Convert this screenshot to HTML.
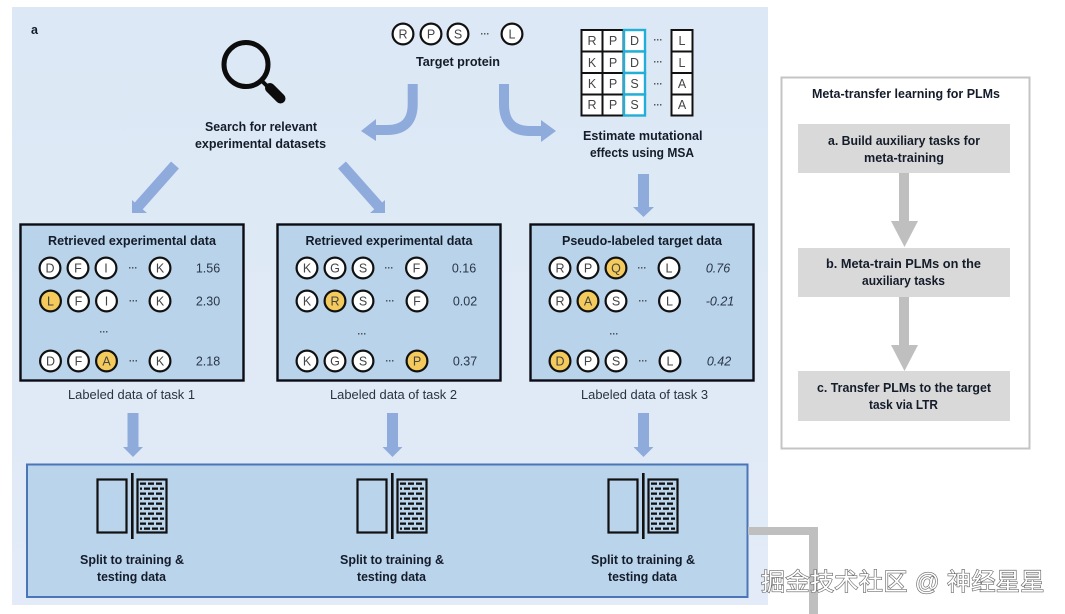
<!DOCTYPE html>
<html><head><meta charset="utf-8">
<style>
html,body{margin:0;padding:0;background:#fff;width:1065px;height:614px;overflow:hidden}
svg{display:block;filter:blur(.35px)}
text{font-family:"Liberation Sans","Noto Sans CJK SC",sans-serif;fill:#141c2a}
.b{font-weight:bold;font-size:12.5px}
.r{font-size:12.5px;fill:#2a3240}
.l{font-size:12.5px;fill:#444;text-anchor:middle}
.v{font-size:12.5px;text-anchor:middle;fill:#2a3646}
.i{font-style:italic}
.d{font-size:9px;text-anchor:middle;fill:#333;font-weight:bold}
.c{fill:#fff;stroke:#111;stroke-width:2.2}
.y{fill:#f4ca5c;stroke:#111;stroke-width:2.2}
.s{fill:none;stroke:#8fabdc}
.h{fill:#8fabdc}
.box{fill:#b9d3eb;stroke:#0c0c14;stroke-width:2.4}
.g{fill:#d9d9d9}
.a{fill:#bfbfbf}
.m{fill:#fff;stroke:#111;stroke-width:2}
.wm{font-size:24px;fill:#fff;letter-spacing:.6px;stroke:#6a6a6a;stroke-width:1.3px;paint-order:stroke}
</style></head>
<body>
<svg width="1065" height="614" viewBox="0 0 1065 614" xmlns="http://www.w3.org/2000/svg">
<defs>
<linearGradient id="pg" x1="0" y1="0" x2="0" y2="1"><stop offset="0" stop-color="#dce8f5"/><stop offset="1" stop-color="#e2ebf7"/></linearGradient>
<pattern id="br" patternUnits="userSpaceOnUse" x="140" y="482" width="8" height="10">
<rect x="0" y="0.5" width="6" height="2.3" fill="#111"/><rect x="4" y="5.5" width="4" height="2.3" fill="#111"/><rect x="0" y="5.5" width="2" height="2.3" fill="#111"/>
</pattern>
<g id="icon">
<rect x="97.5" y="479.5" width="29" height="53" fill="none" stroke="#111" stroke-width="2.2"/>
<rect x="131" y="473" width="2.6" height="66" fill="#111"/>
<rect x="137.5" y="479.5" width="29" height="53" fill="none" stroke="#111" stroke-width="2.2"/>
<rect x="140" y="482" width="24" height="48" fill="url(#br)"/>
</g>
<g id="dn"><rect x="127.5" y="413" width="11" height="35" fill="#8fabdc"/><path d="M123 447H143L133 457Z" fill="#8fabdc"/></g>
</defs>

<rect x="12" y="7" width="756" height="598" fill="url(#pg)"/>
<text x="31" y="34" class="b">a</text>

<!-- magnifier -->
<circle cx="246" cy="64.5" r="22" fill="none" stroke="#0c0c0c" stroke-width="5"/>
<path d="M262 81L268 87" stroke="#0c0c0c" stroke-width="4"/>
<path d="M270 88L280.5 98.5" stroke="#0c0c0c" stroke-width="10" stroke-linecap="round"/>
<text x="205" y="131" class="b" textLength="112" lengthAdjust="spacingAndGlyphs">Search for relevant</text>
<text x="195" y="148" class="b" textLength="131" lengthAdjust="spacingAndGlyphs">experimental datasets</text>

<!-- target protein -->
<circle class="c" cx="403" cy="34" r="10.4"/><text class="l" x="403" y="38.5">R</text>
<circle class="c" cx="431" cy="34" r="10.4"/><text class="l" x="431" y="38.5">P</text>
<circle class="c" cx="458" cy="34" r="10.4"/><text class="l" x="458" y="38.5">S</text>
<text class="d" x="485" y="37">···</text>
<circle class="c" cx="512" cy="34" r="10.4"/><text class="l" x="512" y="38.5">L</text>
<text x="416" y="66" class="b" textLength="84" lengthAdjust="spacingAndGlyphs">Target protein</text>

<!-- MSA -->
<g>
<rect class="m" x="581.5" y="30" width="21" height="21.5"/><rect class="m" x="602.5" y="30" width="21" height="21.5"/>
<rect class="m" x="581.5" y="51.5" width="21" height="21.5"/><rect class="m" x="602.5" y="51.5" width="21" height="21.5"/>
<rect class="m" x="581.5" y="73" width="21" height="21.5"/><rect class="m" x="602.5" y="73" width="21" height="21.5"/>
<rect class="m" x="581.5" y="94.5" width="21" height="21"/><rect class="m" x="602.5" y="94.5" width="21" height="21"/>
<rect class="m" x="671.5" y="30" width="21" height="21.5"/><rect class="m" x="671.5" y="51.5" width="21" height="21.5"/>
<rect class="m" x="671.5" y="73" width="21" height="21.5"/><rect class="m" x="671.5" y="94.5" width="21" height="21"/>
<g fill="#fff" stroke="#22aed6" stroke-width="2.4">
<rect x="624" y="30" width="21" height="21.5"/><rect x="624" y="51.5" width="21" height="21.5"/>
<rect x="624" y="73" width="21" height="21.5"/><rect x="624" y="94.5" width="21" height="21"/>
</g>
<text class="l" x="592" y="45">R</text><text class="l" x="613" y="45">P</text><text class="l" x="634.5" y="45">D</text><text class="d" x="658" y="43">···</text><text class="l" x="682" y="45">L</text>
<text class="l" x="592" y="67">K</text><text class="l" x="613" y="67">P</text><text class="l" x="634.5" y="67">D</text><text class="d" x="658" y="65">···</text><text class="l" x="682" y="67">L</text>
<text class="l" x="592" y="88">K</text><text class="l" x="613" y="88">P</text><text class="l" x="634.5" y="88">S</text><text class="d" x="658" y="87">···</text><text class="l" x="682" y="88">A</text>
<text class="l" x="592" y="109">R</text><text class="l" x="613" y="109">P</text><text class="l" x="634.5" y="109">S</text><text class="d" x="658" y="108">···</text><text class="l" x="682" y="109">A</text>
</g>
<text x="583" y="140" class="b" textLength="119.5" lengthAdjust="spacingAndGlyphs">Estimate mutational</text>
<text x="590" y="157" class="b" textLength="104" lengthAdjust="spacingAndGlyphs">effects using MSA</text>

<!-- curved arrows -->
<path class="s" stroke-width="10" d="M412.7 84V104Q412.7 130 387 130H374"/>
<path class="h" d="M376 119V141L361 131Z"/>
<path class="s" stroke-width="10" d="M504 84V104Q504 131 530 131H543"/>
<path class="h" d="M541 120V142L556 131Z"/>

<!-- diagonal arrows -->
<path class="s" stroke-width="10.5" d="M175 165L136 209"/>
<path class="h" d="M132 200V213H147Z"/>
<path class="s" stroke-width="10.5" d="M342 165L381 209"/>
<path class="h" d="M385 200V213H370Z"/>

<!-- msa to box3 -->
<rect x="638" y="174" width="11" height="35" fill="#8fabdc"/><path d="M633 207H654L643.5 217Z" fill="#8fabdc"/>

<!-- box 1 -->
<rect class="box" x="20.5" y="224.5" width="223" height="156"/>
<text x="48" y="245" class="b" textLength="168" lengthAdjust="spacingAndGlyphs">Retrieved experimental data</text>
<circle class="c" cx="50" cy="268" r="10.4"/><text class="l" x="50" y="272.5">D</text>
<circle class="c" cx="78" cy="268" r="10.4"/><text class="l" x="78" y="272.5">F</text>
<circle class="c" cx="106" cy="268" r="10.4"/><text class="l" x="106" y="272.5">I</text>
<text class="d" x="133" y="271">···</text>
<circle class="c" cx="160" cy="268" r="10.4"/><text class="l" x="160" y="272.5">K</text>
<text class="v" x="208" y="272.5">1.56</text>
<circle class="y" cx="50.5" cy="301" r="10.4"/><text class="l" x="50.5" y="305.5">L</text>
<circle class="c" cx="78.5" cy="301" r="10.4"/><text class="l" x="78.5" y="305.5">F</text>
<circle class="c" cx="106.5" cy="301" r="10.4"/><text class="l" x="106.5" y="305.5">I</text>
<text class="d" x="133.5" y="304">···</text>
<circle class="c" cx="160" cy="301" r="10.4"/><text class="l" x="160" y="305.5">K</text>
<text class="v" x="208" y="305.5">2.30</text>
<text class="d" x="104" y="335">···</text>
<circle class="c" cx="50.5" cy="361" r="10.4"/><text class="l" x="50.5" y="365.5">D</text>
<circle class="c" cx="78.5" cy="361" r="10.4"/><text class="l" x="78.5" y="365.5">F</text>
<circle class="y" cx="106.5" cy="361" r="10.4"/><text class="l" x="106.5" y="365.5">A</text>
<text class="d" x="133.5" y="364">···</text>
<circle class="c" cx="160" cy="361" r="10.4"/><text class="l" x="160" y="365.5">K</text>
<text class="v" x="208" y="365.5">2.18</text>
<text x="68" y="399" class="r" textLength="127" lengthAdjust="spacingAndGlyphs">Labeled data of task 1</text>

<!-- box 2 -->
<rect class="box" x="277.5" y="224.5" width="223" height="156"/>
<text x="305.5" y="245" class="b" textLength="167" lengthAdjust="spacingAndGlyphs">Retrieved experimental data</text>
<circle class="c" cx="307" cy="268" r="10.4"/><text class="l" x="307" y="272.5">K</text>
<circle class="c" cx="335" cy="268" r="10.4"/><text class="l" x="335" y="272.5">G</text>
<circle class="c" cx="363" cy="268" r="10.4"/><text class="l" x="363" y="272.5">S</text>
<text class="d" x="389" y="271">···</text>
<circle class="c" cx="416.5" cy="268" r="10.4"/><text class="l" x="416.5" y="272.5">F</text>
<text class="v" x="464" y="272.5">0.16</text>
<circle class="c" cx="307" cy="301" r="10.4"/><text class="l" x="307" y="305.5">K</text>
<circle class="y" cx="335" cy="301" r="10.4"/><text class="l" x="335" y="305.5">R</text>
<circle class="c" cx="363" cy="301" r="10.4"/><text class="l" x="363" y="305.5">S</text>
<text class="d" x="390" y="304">···</text>
<circle class="c" cx="417" cy="301" r="10.4"/><text class="l" x="417" y="305.5">F</text>
<text class="v" x="465" y="305.5">0.02</text>
<text class="d" x="362" y="337">···</text>
<circle class="c" cx="307" cy="361" r="10.4"/><text class="l" x="307" y="365.5">K</text>
<circle class="c" cx="335" cy="361" r="10.4"/><text class="l" x="335" y="365.5">G</text>
<circle class="c" cx="363" cy="361" r="10.4"/><text class="l" x="363" y="365.5">S</text>
<text class="d" x="390" y="364">···</text>
<circle class="y" cx="417" cy="361" r="10.4"/><text class="l" x="417" y="365.5">P</text>
<text class="v" x="465" y="365.5">0.37</text>
<text x="330" y="399" class="r" textLength="127" lengthAdjust="spacingAndGlyphs">Labeled data of task 2</text>

<!-- box 3 -->
<rect class="box" x="530.5" y="224.5" width="223" height="156"/>
<text x="562" y="245" class="b" textLength="160" lengthAdjust="spacingAndGlyphs">Pseudo-labeled target data</text>
<circle class="c" cx="560" cy="268" r="10.4"/><text class="l" x="560" y="272.5">R</text>
<circle class="c" cx="588" cy="268" r="10.4"/><text class="l" x="588" y="272.5">P</text>
<circle class="y" cx="616" cy="268" r="10.4"/><text class="l" x="616" y="272.5">Q</text>
<text class="d" x="642" y="271">···</text>
<circle class="c" cx="669" cy="268" r="10.4"/><text class="l" x="669" y="272.5">L</text>
<text class="v i" x="718" y="272.5">0.76</text>
<circle class="c" cx="560" cy="301" r="10.4"/><text class="l" x="560" y="305.5">R</text>
<circle class="y" cx="588" cy="301" r="10.4"/><text class="l" x="588" y="305.5">A</text>
<circle class="c" cx="616" cy="301" r="10.4"/><text class="l" x="616" y="305.5">S</text>
<text class="d" x="643" y="304">···</text>
<circle class="c" cx="669.5" cy="301" r="10.4"/><text class="l" x="669.5" y="305.5">L</text>
<text class="v i" x="720" y="305.5">-0.21</text>
<text class="d" x="614" y="337">···</text>
<circle class="y" cx="560" cy="361" r="10.4"/><text class="l" x="560" y="365.5">D</text>
<circle class="c" cx="588" cy="361" r="10.4"/><text class="l" x="588" y="365.5">P</text>
<circle class="c" cx="616" cy="361" r="10.4"/><text class="l" x="616" y="365.5">S</text>
<text class="d" x="643" y="364">···</text>
<circle class="c" cx="670" cy="361" r="10.4"/><text class="l" x="670" y="365.5">L</text>
<text class="v i" x="719" y="365.5">0.42</text>
<text x="581" y="399" class="r" textLength="127" lengthAdjust="spacingAndGlyphs">Labeled data of task 3</text>

<!-- down arrows -->
<use href="#dn"/>
<use href="#dn" x="259.5"/>
<use href="#dn" x="510.5"/>

<!-- bottom box -->
<rect x="27" y="464.5" width="720.5" height="132.5" fill="#bad4ec" stroke="#4a76b8" stroke-width="2"/>
<use href="#icon"/>
<use href="#icon" x="260"/>
<use href="#icon" x="511"/>
<text x="80" y="564" class="b" textLength="104" lengthAdjust="spacingAndGlyphs">Split to training &amp;</text>
<text x="97" y="581" class="b" textLength="69" lengthAdjust="spacingAndGlyphs">testing data</text>
<text x="340" y="564" class="b" textLength="104" lengthAdjust="spacingAndGlyphs">Split to training &amp;</text>
<text x="357" y="581" class="b" textLength="69" lengthAdjust="spacingAndGlyphs">testing data</text>
<text x="591" y="564" class="b" textLength="104" lengthAdjust="spacingAndGlyphs">Split to training &amp;</text>
<text x="608" y="581" class="b" textLength="69" lengthAdjust="spacingAndGlyphs">testing data</text>

<!-- connector -->
<path d="M748 527H818V614H809V535H748Z" fill="#bfbfbf"/>

<!-- right panel -->
<rect x="781.5" y="77.5" width="248" height="371" fill="#fff" stroke="#c4c4c4" stroke-width="2"/>
<text x="812" y="98" class="b" textLength="188" lengthAdjust="spacingAndGlyphs">Meta-transfer learning for PLMs</text>
<rect class="g" x="798" y="124" width="212" height="49"/>
<rect class="g" x="798" y="248" width="212" height="49"/>
<rect class="g" x="798" y="371" width="212" height="50"/>
<rect class="a" x="899" y="173" width="10" height="49"/><path class="a" d="M891 221H918L904.5 247Z"/>
<rect class="a" x="899" y="297" width="10" height="49"/><path class="a" d="M891 345H918L904.5 371Z"/>
<text x="828" y="145" class="b" textLength="152" lengthAdjust="spacingAndGlyphs">a. Build auxiliary tasks for</text>
<text x="864" y="162" class="b" textLength="80" lengthAdjust="spacingAndGlyphs">meta-training</text>
<text x="826" y="268" class="b" textLength="155" lengthAdjust="spacingAndGlyphs">b. Meta-train PLMs on the</text>
<text x="862" y="285" class="b" textLength="83" lengthAdjust="spacingAndGlyphs">auxiliary tasks</text>
<text x="817" y="392" class="b" textLength="174" lengthAdjust="spacingAndGlyphs">c. Transfer PLMs to the target</text>
<text x="869" y="409" class="b" textLength="69" lengthAdjust="spacingAndGlyphs">task via LTR</text>

<!-- watermark -->
<text x="761" y="590" class="wm" textLength="284" lengthAdjust="spacing">掘金技术社区 @ 神经星星</text>
</svg>
</body></html>
